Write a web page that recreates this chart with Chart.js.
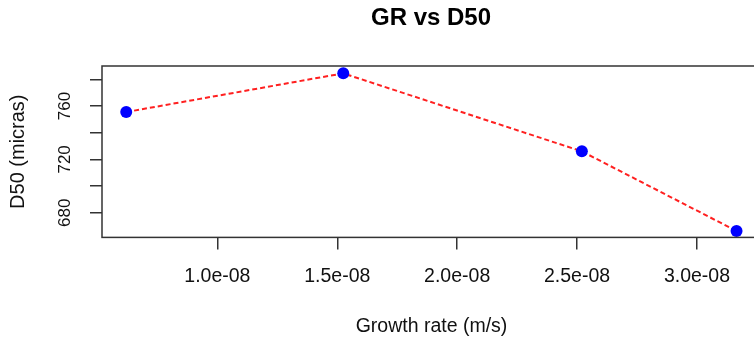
<!DOCTYPE html>
<html>
<head>
<meta charset="utf-8">
<script src="https://cdn.jsdelivr.net/npm/chart.js@4.4.1/dist/chart.umd.min.js"></script>
<style>
  html, body { margin: 0; padding: 0; background: #fff; overflow: hidden; width: 754px; height: 339px; }
  #wrap { position: absolute; left: 0; top: 0; width: 862px; height: 339px; }
</style>
</head>
<body>
<div id="wrap"><canvas id="grChart" width="862" height="339"></canvas></div>
<script>
// growth rate (m/s) vs D50 (micras)
const growthRate = [6.2e-9, 1.525e-8, 2.52e-8, 3.165e-8];
const d50 = [755.5, 784.5, 726, 666.3];

const xTicks = [1.0e-8, 1.5e-8, 2.0e-8, 2.5e-8, 3.0e-8];
const xTickLabels = ['1.0e-08', '1.5e-08', '2.0e-08', '2.5e-08', '3.0e-08'];
const yTicks = [680, 700, 720, 740, 760, 780];
const yTickLabels = ['680', '', '720', '', '760', ''];

const points = growthRate.map((x, i) => ({ x: x, y: d50[i] }));

// R style box round the plot area
const boxPlugin = {
  id: 'box',
  afterDraw(chart) {
    const a = chart.chartArea;
    const ctx = chart.ctx;
    ctx.save();
    ctx.strokeStyle = '#333';
    ctx.lineWidth = 1.5;
    ctx.strokeRect(a.left, a.top, a.right - a.left, a.bottom - a.top);
    ctx.restore();
  }
};

const fontFam = '"Liberation Sans", Arial, sans-serif';

new Chart('grChart', {
  type: 'scatter',
  data: {
    datasets: [{
      data: points,
      showLine: true,
      borderColor: '#ff2020',
      borderWidth: 2,
      borderDash: [5, 3],
      pointRadius: 6,
      pointHoverRadius: 6,
      pointBackgroundColor: '#0000ff',
      pointBorderColor: '#0000ff',
      pointBorderWidth: 0,
      clip: false
    }]
  },
  options: {
    responsive: false,
    animation: false,
    events: [],
    layout: { padding: 0 },
    plugins: {
      legend: { display: false },
      tooltip: { enabled: false },
      title: {
        display: true,
        text: 'GR vs D50',
        color: '#000',
        font: { family: fontFam, size: 24, weight: 'bold', lineHeight: 1.2 },
        padding: { top: 3.6, bottom: 33.6 }
      }
    },
    scales: {
      x: {
        type: 'linear',
        min: 0.519e-8,
        max: 3.267e-8,
        afterBuildTicks: (s) => { s.ticks = xTicks.map(v => ({ value: v })); },
        afterFit: (s) => { s.height = 101.6; },
        grid: { drawOnChartArea: false, drawTicks: true, tickLength: 12, color: '#333', lineWidth: 1.5 },
        border: { display: false },
        ticks: {
          color: '#111',
          font: { family: fontFam, size: 19.5 },
          padding: 16,
          maxRotation: 0,
          autoSkip: false,
          callback: (v, i) => xTickLabels[i]
        },
        title: {
          display: true,
          text: 'Growth rate (m/s)',
          color: '#111',
          font: { family: fontFam, size: 19.5, lineHeight: 1.2 },
          padding: { top: 0, bottom: 0.5 }
        }
      },
      y: {
        type: 'linear',
        min: 661.5,
        max: 790,
        afterBuildTicks: (s) => { s.ticks = yTicks.map(v => ({ value: v })); },
        afterFit: (s) => { s.width = 102; },
        grid: { drawOnChartArea: false, drawTicks: true, tickLength: 12, color: '#333', lineWidth: 1.5 },
        border: { display: false },
        ticks: {
          color: '#111',
          font: { family: fontFam, size: 17 },
          padding: 11,
          minRotation: 90,
          maxRotation: 90,
          crossAlign: 'center',
          autoSkip: false,
          callback: (v, i) => yTickLabels[i]
        },
        title: {
          display: true,
          text: 'D50 (micras)',
          color: '#111',
          font: { family: fontFam, size: 20, lineHeight: 1.2 },
          padding: { top: 6.5, bottom: 0 }
        }
      },
      // empty right-hand space so the title centres over the plot like R does
      yRight: {
        position: 'right',
        display: true,
        afterFit: (s) => { s.width = 101; },
        grid: { display: false },
        border: { display: false },
        ticks: { display: false }
      }
    }
  },
  plugins: [boxPlugin]
});
</script>
</body>
</html>
